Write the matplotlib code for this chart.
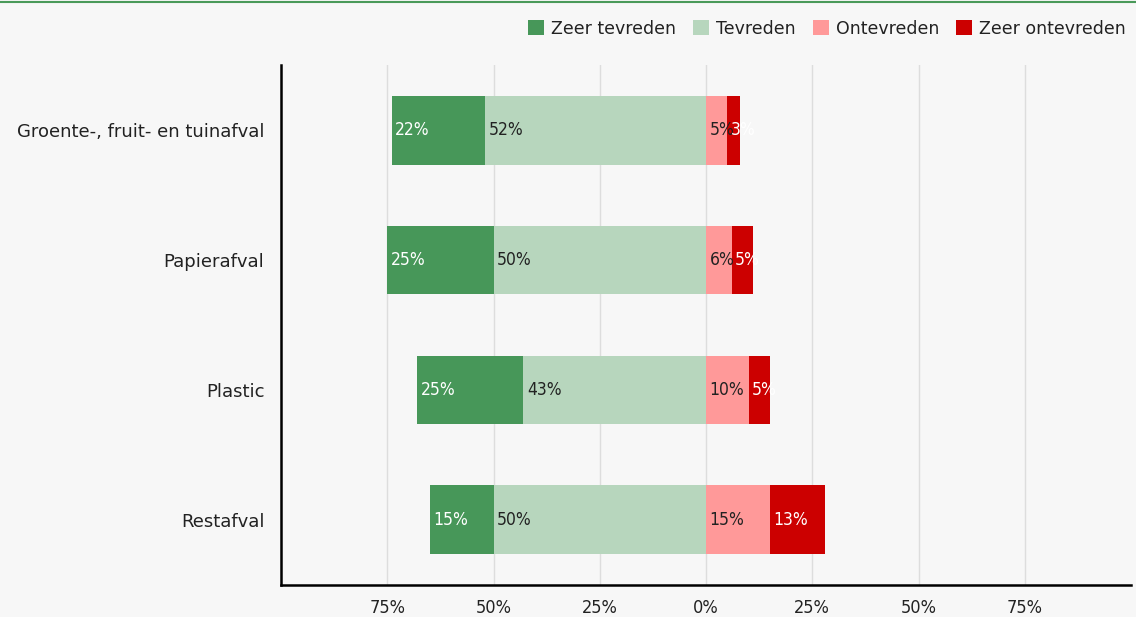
import matplotlib.pyplot as plt

categories = ['Groente-, fruit- en tuinafval', 'Papierafval', 'Plastic', 'Restafval']
zeer_tevreden = [22, 25, 25, 15]
tevreden = [52, 50, 43, 50]
ontevreden = [5, 6, 10, 15]
zeer_ontevreden = [3, 5, 5, 13]
series_names = ['Zeer tevreden', 'Tevreden', 'Ontevreden', 'Zeer ontevreden']
xticks = [-75, -50, -25, 0, 25, 50, 75]
xticklabels = ['75%', '50%', '25%', '0%', '25%', '50%', '75%']

colors = ['#479759', '#b7d6bd', '#ff9999', '#cc0000']
text_colors = ['white', '#222222', '#222222', 'white']

plt.rcParams['font.family'] = ['DejaVu Sans']

bg = '#f7f7f7'
fig = plt.figure(figsize=(11.36, 6.17), dpi=100, facecolor=bg)
ax = fig.add_axes([0.2474, 0.052, 0.7482, 0.8425], facecolor=bg)

y = list(range(len(categories)))
h = 0.53
# negatieve kant: tevreden tegen de nul, zeer tevreden daarbuiten
left_tev = [-t for t in tevreden]
left_zt = [-(t + z) for t, z in zip(tevreden, zeer_tevreden)]
segments = [
    (left_zt, zeer_tevreden),
    (left_tev, tevreden),
    ([0] * len(categories), ontevreden),
    (ontevreden, zeer_ontevreden),
]
for i, (lefts, widths) in enumerate(segments):
    ax.barh(y, widths, left=lefts, height=h, color=colors[i], label=series_names[i], zorder=3)
    for yy, l, w in zip(y, lefts, widths):
        ax.annotate('%d%%' % w, (l, yy), xytext=(2.5, 0), textcoords='offset points',
                    va='center', ha='left', color=text_colors[i], fontsize=12.5,
                    fontstretch='condensed', zorder=4)

ax.set_xlim(-100, 100)
ax.set_ylim(3.5, -0.5)
ax.set_yticks(y)
ax.set_yticklabels(categories, fontsize=13, color='#222222')
ax.set_xticks(xticks)
ax.set_xticklabels(xticklabels, fontsize=13, color='#222222', fontstretch='condensed')
ax.tick_params(length=0, pad=10)
ax.tick_params(axis='y', pad=12)
ax.grid(axis='x', color='#dddddd', lw=1, zorder=0)
for s in ['top', 'right']:
    ax.spines[s].set_visible(False)
for s in ['left', 'bottom']:
    ax.spines[s].set_linewidth(1.8)
    ax.spines[s].set_color('black')

fig.add_artist(plt.Line2D([0, 1], [0.997, 0.997], color='#4a9a5a', lw=1.5))

fig.legend(loc='upper right', bbox_to_anchor=(1.0, 0.985), ncol=4, frameon=False,
           fontsize=12.5, handlelength=0.9, handleheight=0.9, handletextpad=0.4,
           columnspacing=1.0, borderaxespad=0.2, labelcolor='#222222')

fig.savefig('out.png', dpi=100, facecolor=bg)
